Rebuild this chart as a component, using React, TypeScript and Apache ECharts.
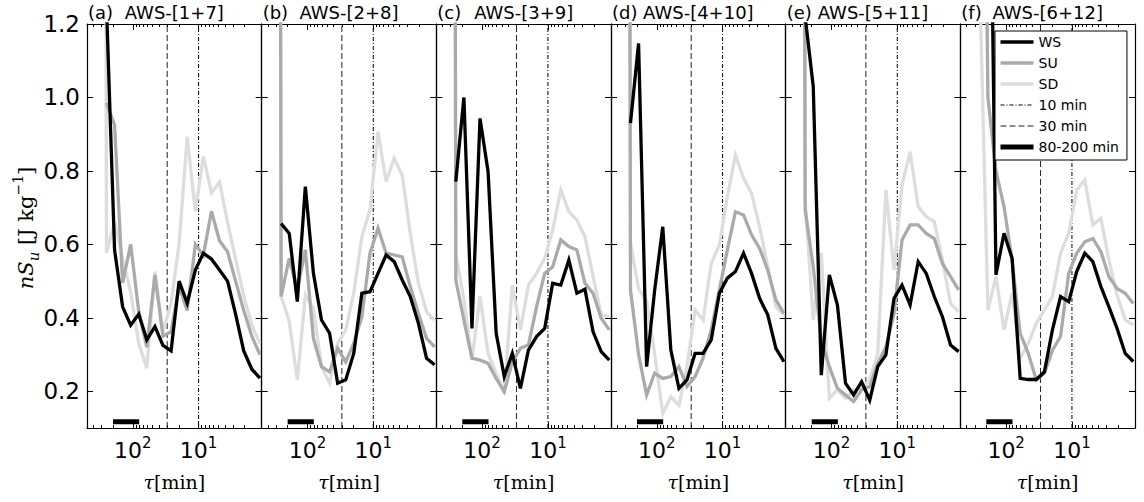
import React, { useEffect, useRef } from 'react';
import * as echarts from 'echarts';

// tau [min] sample positions (first one lies off-chart to the left, used for steep starts)
const TAU = [333, 251.2, 189.3, 142.8, 107.7, 81.2, 61.2, 46.1, 34.8, 26.2, 19.8, 14.9, 11.2, 8.47, 6.38, 4.81, 3.63, 2.74, 2.06, 1.55, 1.17];

const PANEL_TAGS = ['(a)', '(b)', '(c)', '(d)', '(e)', '(f)'];
const PANEL_TITLES = ['AWS-[1+7]', 'AWS-[2+8]', 'AWS-[3+9]', 'AWS-[4+10]', 'AWS-[5+11]', 'AWS-[6+12]'];

const WS_A = [null, 1.25, 0.585, 0.43, 0.38, 0.41, 0.34, 0.376, 0.325, 0.31, 0.50, 0.44, 0.53, 0.576, 0.56, 0.53, 0.50, 0.41, 0.31, 0.26, 0.236];
const SU_A = [null, 0.985, 0.925, 0.495, 0.60, 0.417, 0.32, 0.517, 0.35, 0.362, 0.485, 0.42, 0.60, 0.57, 0.69, 0.61, 0.58, 0.50, 0.42, 0.35, 0.30];
const SD_A = [12, 0.577, 0.66, 0.56, 0.47, 0.33, 0.263, 0.526, 0.362, 0.44, 0.60, 0.893, 0.69, 0.84, 0.74, 0.77, 0.66, 0.56, 0.46, 0.38, 0.33];

const WS_B = [null, 0.657, 0.63, 0.444, 0.757, 0.521, 0.394, 0.358, 0.222, 0.231, 0.303, 0.467, 0.471, 0.521, 0.571, 0.553, 0.503, 0.458, 0.385, 0.29, 0.272];
const SU_B = [12, 0.458, 0.562, 0.476, 0.585, 0.344, 0.267, 0.253, 0.317, 0.28, 0.33, 0.403, 0.576, 0.644, 0.576, 0.571, 0.566, 0.485, 0.412, 0.344, 0.321];
const SD_B = [12, 0.458, 0.39, 0.231, 0.462, 0.426, 0.267, 0.222, 0.33, 0.367, 0.467, 0.621, 0.694, 0.907, 0.771, 0.834, 0.789, 0.63, 0.494, 0.417, 0.394];

const WS_C = [null, 0.771, 1.0, 0.371, 0.943, 0.798, 0.358, 0.24, 0.303, 0.208, 0.312, 0.349, 0.371, 0.494, 0.489, 0.557, 0.467, 0.478, 0.362, 0.308, 0.285];
const SU_C = [12, 0.503, 0.394, 0.29, 0.285, 0.276, 0.235, 0.199, 0.28, 0.317, 0.326, 0.43, 0.521, 0.539, 0.612, 0.594, 0.585, 0.494, 0.467, 0.399, 0.367];
const SD_C = [12, 0.576, 0.45, 0.285, 0.458, 0.303, 0.249, 0.194, 0.489, 0.367, 0.489, 0.521, 0.562, 0.639, 0.748, 0.689, 0.666, 0.621, 0.512, 0.408, 0.403];

const WS_D = [null, 0.93, 1.147, 0.267, 0.476, 0.648, 0.312, 0.208, 0.231, 0.303, 0.303, 0.34, 0.467, 0.508, 0.526, 0.576, 0.521, 0.453, 0.408, 0.317, 0.281];
const SU_D = [12, 0.476, 0.30, 0.19, 0.249, 0.235, 0.24, 0.267, 0.213, 0.24, 0.29, 0.367, 0.476, 0.585, 0.689, 0.68, 0.626, 0.589, 0.53, 0.449, 0.412];
const SD_D = [12, 0.603, 0.48, 0.445, 0.30, 0.14, 0.185, 0.162, 0.267, 0.421, 0.394, 0.548, 0.598, 0.73, 0.843, 0.78, 0.739, 0.648, 0.539, 0.43, 0.408];

const WS_E = [null, 1.22, 1.03, 0.244, 0.517, 0.435, 0.222, 0.19, 0.226, 0.176, 0.267, 0.299, 0.453, 0.489, 0.435, 0.553, 0.521, 0.458, 0.403, 0.326, 0.308];
const SU_E = [12, 0.694, 0.539, 0.34, 0.267, 0.208, 0.19, 0.172, 0.204, 0.213, 0.276, 0.321, 0.412, 0.612, 0.653, 0.653, 0.63, 0.616, 0.548, 0.512, 0.476];
const SD_E = [12, 0.72, 0.394, 0.576, 0.181, 0.204, 0.181, 0.204, 0.208, 0.231, 0.303, 0.748, 0.53, 0.762, 0.852, 0.703, 0.675, 0.662, 0.557, 0.439, 0.417];

const WS_F = [null, 3.0, 2.2, 0.517, 0.63, 0.562, 0.235, 0.232, 0.232, 0.253, 0.367, 0.458, 0.444, 0.526, 0.576, 0.553, 0.485, 0.43, 0.371, 0.303, 0.281];
const SU_F = [null, 3.0, 1.0, 0.8, 0.703, 0.557, 0.358, 0.303, 0.231, 0.249, 0.312, 0.349, 0.521, 0.576, 0.607, 0.616, 0.58, 0.512, 0.48, 0.467, 0.439];
const SD_F = [null, 1.3, 0.421, 0.512, 0.367, 0.467, 0.29, 0.33, 0.385, 0.421, 0.458, 0.576, 0.63, 0.748, 0.775, 0.653, 0.671, 0.557, 0.462, 0.394, 0.381];

const WS_ALL = [WS_A, WS_B, WS_C, WS_D, WS_E, WS_F];
const SU_ALL = [SU_A, SU_B, SU_C, SU_D, SU_E, SU_F];
const SD_ALL = [SD_A, SD_B, SD_C, SD_D, SD_E, SD_F];

const X_MIN = 1.1;
const X_MAX = 496.6;
const Y_MIN = 0.1;
const Y_MAX = 1.2;
const Y_TICKS = [0.2, 0.4, 0.6, 0.8, 1.0, 1.2];
const X_MINOR = [2, 3, 4, 5, 6, 7, 8, 9, 20, 30, 40, 50, 60, 70, 80, 90, 200, 300, 400];
const TAU_10 = 10;
const TAU_30 = 30;
const BAND = [200, 80];
const BAND_Y = 0.117;

const GRID_LEFT = 87;
const GRID_W = 174.67;
const GRID_TOP = 24;
const GRID_H = 404;

const SANS = 'DejaVu Sans';
const SERIF = 'DejaVu Serif';

function pairs(vals: (number | null)[]) {
  const out: number[][] = [];
  vals.forEach((v, i) => {
    if (v !== null) out.push([TAU[i], v]);
  });
  return out;
}

function buildOption() {
  const grid: any[] = [];
  const xAxis: any[] = [];
  const yAxis: any[] = [];
  const series: any[] = [];
  const graphic: any[] = [];

  const xFormatter = (v: number) => {
    const e = Math.log10(v);
    const r = Math.round(e);
    if (Math.abs(e - r) > 1e-6 || r < 1) return '';
    return '{b|10}{p|' + r + '}';
  };

  for (let i = 0; i < 6; i++) {
    const left = GRID_LEFT + i * GRID_W;
    grid.push({ left, top: GRID_TOP, width: GRID_W, height: GRID_H, show: false });

    const logBase = (pos: string) => ({
      type: 'log',
      logBase: 10,
      min: X_MIN,
      max: X_MAX,
      inverse: true,
      gridIndex: i,
      position: pos,
      axisLine: { show: true, onZero: false, lineStyle: { color: '#000', width: 1.2 } },
      axisTick: { show: true, inside: true, length: 6, lineStyle: { color: '#000', width: 1 } },
      splitLine: { show: false },
      minorTick: { show: false },
      minorSplitLine: { show: false },
    });
    xAxis.push({
      ...logBase('bottom'),
      axisLabel: {
        show: true,
        margin: 7,
        formatter: xFormatter,
        showMinLabel: false,
        showMaxLabel: false,
        rich: {
          b: { fontFamily: SANS, fontSize: 22, color: '#000', lineHeight: 30 },
          p: { fontFamily: SANS, fontSize: 15, color: '#000', lineHeight: 20, verticalAlign: 'top' },
        },
      },
      name: '{t|τ}{n|[min]}',
      nameLocation: 'middle',
      nameGap: 44,
      nameTextStyle: {
        rich: {
          t: { fontFamily: SERIF, fontStyle: 'italic', fontSize: 19, color: '#000' },
          n: { fontFamily: SERIF, fontSize: 19, color: '#000' },
        },
      },
    });
    xAxis.push({ ...logBase('top'), axisLabel: { show: false } });
    const minorBase = (pos: string) => ({
      type: 'value',
      min: Math.log10(X_MIN),
      max: Math.log10(X_MAX),
      inverse: true,
      gridIndex: i,
      position: pos,
      axisLine: { show: false },
      axisTick: {
        show: true,
        inside: true,
        length: 3,
        customValues: X_MINOR.map((v) => Math.log10(v)),
        lineStyle: { color: '#000', width: 1 },
      },
      axisLabel: { show: false },
      splitLine: { show: false },
    });
    xAxis.push(minorBase('bottom'));
    xAxis.push(minorBase('top'));

    const yBase = (pos: string, labels: boolean) => ({
      type: 'value',
      min: Y_MIN,
      max: Y_MAX,
      gridIndex: i,
      position: pos,
      axisLine: { show: true, onZero: false, lineStyle: { color: '#000', width: 1.2 } },
      axisTick: { show: true, inside: true, length: 6, customValues: Y_TICKS, lineStyle: { color: '#000', width: 1 } },
      axisLabel: {
        show: labels,
        customValues: Y_TICKS,
        formatter: (v: number) => v.toFixed(1),
        fontFamily: SANS,
        fontSize: 23,
        color: '#000',
        margin: 7,
      },
      splitLine: { show: false },
    });
    yAxis.push(yBase('left', i === 0));
    yAxis.push(yBase('right', false));

    const xi = i * 4;
    const yi = i * 2;
    const mk = (name: string, data: number[][], color: string, lineStyle: any, z: number) => ({
      type: 'line', name, xAxisIndex: xi, yAxisIndex: yi, symbol: 'none', z, silent: true,
      data,
      itemStyle: { color, opacity: 0 },
      lineStyle: { color, ...lineStyle },
    });
    series.push(mk('10 min', [[TAU_10, Y_MIN], [TAU_10, Y_MAX]], '#000', { width: 1, type: [4, 2, 1, 2] }, 1));
    series.push(mk('30 min', [[TAU_30, Y_MIN], [TAU_30, Y_MAX]], '#222', { width: 1, type: [6, 3] }, 1));
    series.push(mk('80-200 min', [[BAND[0], BAND_Y], [BAND[1], BAND_Y]], '#000', { width: 5, cap: 'butt' }, 2));
    series.push(mk('SD', pairs(SD_ALL[i]), '#dddddd', { width: 3.3, join: 'miter' }, 2));
    series.push(mk('SU', pairs(SU_ALL[i]), '#aaaaaa', { width: 3.3, join: 'miter' }, 3));
    series.push(mk('WS', pairs(WS_ALL[i]), '#000000', { width: 3.3, join: 'miter' }, 4));

    graphic.push({
      type: 'text', x: left + 1, y: 12, silent: true,
      style: { text: PANEL_TAGS[i], fontFamily: SANS, fontSize: 18, fill: '#000', align: 'left', verticalAlign: 'middle' },
    });
    graphic.push({
      type: 'text', x: left + GRID_W / 2, y: 12, silent: true,
      style: { text: PANEL_TITLES[i], fontFamily: SANS, fontSize: 18, fill: '#000', align: 'center', verticalAlign: 'middle' },
    });
  }

  graphic.push({
    type: 'text', x: 26, y: 228, rotation: Math.PI / 2, silent: true,
    style: {
      text: '{i|nS}{s|u}{n| [J kg}{p|−1}{n|]}',
      align: 'center',
      verticalAlign: 'middle',
      fill: '#000',
      rich: {
        i: { fontFamily: SERIF, fontStyle: 'italic', fontSize: 21, lineHeight: 30, fill: '#000' },
        s: { fontFamily: SERIF, fontStyle: 'italic', fontSize: 15, lineHeight: 18, verticalAlign: 'bottom', fill: '#000' },
        n: { fontFamily: SERIF, fontSize: 21, lineHeight: 30, fill: '#000' },
        p: { fontFamily: SERIF, fontSize: 14, lineHeight: 20, verticalAlign: 'top', fill: '#000' },
      },
    },
  });

  return {
    animation: false,
    backgroundColor: '#fff',
    grid,
    xAxis,
    yAxis,
    series,
    graphic,
    legend: {
      data: ['WS', 'SU', 'SD', '10 min', '30 min', '80-200 min'],
      orient: 'vertical',
      left: 995,
      top: 31,
      itemWidth: 33,
      itemHeight: 14,
      itemGap: 7,
      padding: [4, 8, 6, 3],
      borderColor: '#000',
      borderWidth: 1,
      borderRadius: 0,
      backgroundColor: '#fff',
      z: 10,
      selectedMode: false,
      itemStyle: { opacity: 0 },
      lineStyle: { width: 'inherit' },
      textStyle: { fontFamily: SANS, fontSize: 14, color: '#000' },
    },
  };
}

export default function App() {
  const ref = useRef<HTMLDivElement>(null);
  useEffect(() => {
    const chart = echarts.init(ref.current!, null, { renderer: 'svg' });
    chart.setOption(buildOption() as any);
    return () => chart.dispose();
  }, []);
  return (
    <div
      ref={ref}
      style={{ position: 'absolute', left: 0, top: 0, width: 1144, height: 502, background: '#fff' }}
    />
  );
}
